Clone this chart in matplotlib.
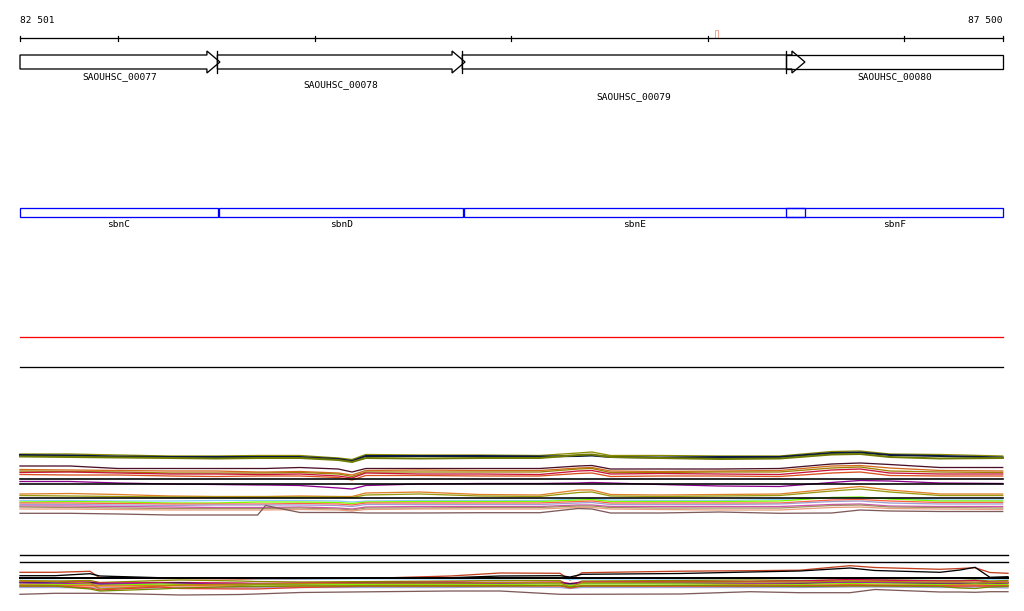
import matplotlib
matplotlib.use("Agg")
import matplotlib.pyplot as plt
from matplotlib.patches import Polygon, Rectangle

# ---------------- data ----------------
VIEW_START = 82501
VIEW_END = 87500
RULER_TICKS = [82501, 83000, 84000, 85000, 86000, 87000, 87500]
RULER_LABELS = ["82 501", "87 500"]

GENE_NAMES = ["SAOUHSC_00077", "SAOUHSC_00078", "SAOUHSC_00079", "SAOUHSC_00080"]
GENE_START = [82450, 83505, 84751, 86398]
GENE_END = [83518, 84765, 86494, 87560]
GENE_LABEL_ROW = [0, 1, 2, 0]

FEATURE_NAMES = ["sbnC", "sbnD", "sbnE", "sbnF"]
FEATURE_START = [82450, 83515, 84760, 86398]
FEATURE_END = [83508, 84755, 86494, 87560]

MARKER_POS = 86046

# profile track 1 (upper bundle) sampled positions
X1 = [82501, 82755, 83000, 83265, 83500, 83710, 83750, 83925, 84120, 84190,
      84260, 84535, 84840, 85145, 85340, 85410, 85505, 85755, 86060, 86365,
      86630, 86775, 86925, 87180, 87500]
T1_COLORS = ["#8b8b00", "#0a1a40", "#6f7a00", "#4a1028", "#d2691e", "#a08000",
             "#c8143c", "#d8501e", "#8b008b", "#e0802a", "#9a9a10", "#87cefa",
             "#7cfc00", "#ff6347", "#a0a0d0", "#d050b0", "#a09060", "#e8a080",
             "#7f5a5a"]
T1_VALUES = [
    [454, 454, 455, 456, 456, 455.5, 455.5, 455.5, 458, 459.5, 454.5, 455, 455, 455.5, 453, 452, 455.5, 455.5, 456, 456, 451.5, 451, 454, 454.5, 456],
    [455, 455.5, 456.5, 457, 457, 457, 457, 457, 459, 461, 456, 456, 456, 456.5, 456, 455.5, 457, 457.5, 457, 457, 453, 452.5, 455, 456, 457.5],
    [456.5, 457, 457.5, 458, 458.5, 458, 458, 458, 460, 462, 458, 458.5, 458, 458, 455, 454.5, 457, 458, 459, 458.5, 454.5, 454, 457, 458.5, 458],
    [466, 466, 468.5, 468.5, 468.5, 468.5, 468.5, 467.5, 469, 472, 468.5, 468.5, 468.5, 468.5, 466, 465.5, 469, 469, 469, 468.5, 464, 463, 464.5, 467.5, 467.5],
    [469.5, 470, 470.5, 471, 471, 472, 472, 471.5, 473, 475, 470.5, 470, 470.5, 470.5, 468, 467.5, 471, 471.5, 471, 470.5, 466, 465.5, 468, 470.5, 471],
    [471, 471.5, 472, 473, 473, 473, 473, 472.5, 474, 476.5, 472, 472, 472, 472, 469, 468.5, 472.5, 472.5, 472, 472, 468, 467, 471, 472, 472.5],
    [472.5, 472, 473, 474, 474, 474.5, 474.5, 474, 476, 478, 473, 474, 474, 474.5, 471, 470.5, 474, 473.5, 474, 474.5, 470, 469, 473, 474, 474],
    [474.5, 475, 475, 476, 476.5, 476, 476, 476, 477.5, 480, 475.5, 475.5, 476, 476, 473.5, 473, 476.5, 476, 476, 476.5, 473, 472, 475.5, 476, 476],
    [481.5, 481.5, 483, 484, 484.5, 485, 485, 485.5, 488, 489, 485.5, 484, 483.5, 483.5, 483, 482.5, 483, 484.5, 486, 486.5, 482.5, 480.5, 481, 483, 483.5],
    [494, 493.5, 494.5, 496, 496.5, 496.5, 496.5, 496, 496.5, 496.5, 493, 492, 494.5, 495, 490, 490, 494.5, 495, 494.5, 494, 489, 486.5, 490, 494, 494],
    [495.5, 496, 496.5, 497, 497, 497, 497, 497, 497, 497.5, 495, 494, 496, 496.5, 492.5, 492, 496, 496.5, 496, 495.5, 491, 489, 492, 495.5, 495.5],
    [500.5, 500.5, 501, 501, 500.5, 500.5, 500.5, 500.5, 501, 502, 501, 500.5, 500.5, 500.5, 499, 499, 500, 500.5, 500.5, 499.5, 497.5, 497.5, 498.5, 500, 500],
    [502, 501.5, 502, 503, 503, 502, 502, 502, 502.5, 503.5, 502, 501.5, 501.5, 501.5, 500, 499.5, 501.5, 501.5, 501.5, 501, 497.5, 497, 499, 501, 501],
    [503, 503, 503.5, 504, 504, 504, 504, 503.5, 504, 505, 503, 503, 503, 503, 501.5, 501, 503, 503, 503, 503, 500, 499.5, 501, 502.5, 502.5],
    [504.5, 504.5, 505, 505.5, 505, 505, 505, 505, 505.5, 506.5, 504.5, 504.5, 504.5, 504.5, 503, 502.5, 504.5, 504.5, 504.5, 504, 501.5, 501, 503, 504, 504],
    [506, 506, 506.5, 507, 507.5, 507.5, 507.5, 507, 508, 509, 507, 506.5, 506.5, 506.5, 505, 505, 506.5, 506.5, 506.5, 506.5, 504.5, 504, 506, 506.5, 506.5],
    [507, 507.5, 508, 508.5, 508.5, 508.5, 508.5, 508, 509, 510, 508, 508, 507.5, 507.5, 506, 506, 507.5, 508, 508, 508, 505.5, 505, 507, 507.5, 508],
    [509, 509, 509.5, 510, 510, 510, 510, 509.5, 510, 511, 509.5, 509, 509, 509, 507.5, 507.5, 509, 509.5, 510, 510, 507.5, 507, 508.5, 509, 509.5],
    [513.3, 513.3, 514, 515, 515, 515, 505.5, 512.5, 512.5, 512.5, 513, 513, 512.7, 512.7, 508.5, 509, 513, 513, 512, 513.3, 513, 510, 511, 511.5, 511.5],
]
T1_BLACK_LEVELS = [478.5, 484.3, 498.3]

# profile track 2 (lower bundle) sampled positions
X2 = [82501, 82679, 82857, 82908, 83213, 83315, 83620, 83702, 83925, 84332,
      84691, 84943, 85248, 85299, 85360, 85859, 86215, 86469, 86723, 86850,
      87181, 87283, 87359, 87435, 87527]
T2_COLORS = ["#c04020", "#000000", "#87cefa", "#8b8b00", "#d01050", "#101040",
             "#a020a0", "#7cfc00", "#e8702a", "#ff7f50", "#a0a0d8", "#b8860b",
             "#e04030", "#7a8a00", "#7f5a5a"]
T2_VALUES = [
    [572.3, 572.3, 571.3, 578, 578.5, 578.5, 579, 579, 579, 578, 576, 573, 573.3, 580, 572.7, 571.2, 570.7, 570.2, 565.7, 567.5, 569.3, 568.5, 567.7, 572.5, 573.3],
    [575.7, 575.7, 573.7, 576, 577.7, 577.7, 577.7, 577.7, 577.7, 577.7, 577.7, 576, 575.7, 577, 574.3, 573.5, 572, 571, 568, 570.5, 572.3, 570, 567.3, 577.3, 576.7],
    [578.7, 578.7, 578.3, 578.3, 578.3, 578.3, 578.3, 578.8, 579, 578.8, 579, 578.8, 578.3, 579.5, 579, 579, 578.5, 578.5, 578.5, 579, 578.5, 578.5, 579, 579.2, 579],
    [580.5, 581, 580.5, 582.5, 580.5, 580, 581, 581.5, 582, 581.5, 581, 580.5, 580.5, 586, 581, 580.5, 580, 580.5, 580, 580, 580.5, 580.5, 580, 581, 580.5],
    [582, 581.5, 582, 583, 582.5, 582.5, 583, 583.5, 583, 582.5, 582, 582.5, 582, 583.5, 582, 581.5, 581.5, 581, 579.5, 580, 581, 581, 580.5, 582, 582],
    [582.5, 583, 582.5, 584, 583.5, 583, 585, 584.5, 584, 583, 583, 582.5, 583, 584, 583, 583, 583.5, 583.5, 582, 582.5, 583.5, 583.5, 583.5, 584, 583],
    [583, 583.5, 584, 584, 583.5, 584, 583.5, 583.5, 584, 583.5, 583.5, 583.5, 583, 585, 583, 583, 583.5, 583, 582.5, 582.5, 583, 583, 583, 583, 583],
    [584.5, 584.5, 585, 585.5, 584, 584.5, 585, 585, 585, 584.5, 584.5, 584.5, 584, 585.5, 584, 584, 584.5, 584.5, 583.5, 584, 584.5, 584.5, 584, 584.5, 584.5],
    [585, 585.5, 585.5, 586, 585.5, 585.5, 586, 586.5, 586, 585.5, 585.5, 585.5, 585.5, 587, 585.5, 585.5, 585, 585.5, 584.5, 585, 585.5, 585, 585, 585.5, 585.5],
    [586.5, 586.5, 587, 587, 587, 587, 587.5, 587, 587, 586.5, 586.5, 586.5, 586.5, 588, 586.5, 586.5, 586.5, 586.5, 586, 586, 586.5, 586.5, 586, 586.5, 586.5],
    [587.5, 587.5, 588, 588, 588, 587.5, 588, 588, 587.5, 587.5, 587.5, 587, 587.5, 588.5, 587.5, 587.5, 587.5, 587.5, 587, 587, 587.5, 587.5, 587, 587.5, 588],
    [581, 581.5, 583, 589, 586, 585, 584, 584, 583.5, 583, 583, 582.5, 582.5, 587.5, 582.5, 582, 582, 582, 581, 581.5, 582, 582, 582, 582.5, 582.5],
    [586, 586, 588, 590, 587, 588.5, 589, 589, 587.5, 586, 586, 586, 585.5, 588, 586, 586, 586, 586, 585.5, 585.5, 586, 586, 586, 586, 586],
    [586, 586, 589, 591, 589, 588, 586.5, 586.5, 586, 586, 586, 586, 585.5, 587, 586, 585.5, 586, 586.5, 586, 586, 586.5, 588, 588.5, 587, 586.5],
    [594.3, 593.3, 593.3, 593.3, 594.5, 595, 594.5, 594, 592.5, 591.7, 591, 591, 594.3, 594.3, 594.3, 594, 591.7, 592.7, 592.7, 589.5, 592, 592, 592.3, 591.7, 591.7],
]
T2_BLACK_LEVELS = [555.3, 562.3, 577.8]
T2_END = 87527

# ---------------- layout (pixel-space vertical positions) ----------------
W, H = 1024, 611
BP_PER_PX = 5.087
X_LEFT = VIEW_START - 20 * BP_PER_PX
X_RIGHT = X_LEFT + W * BP_PER_PX

fig = plt.figure(figsize=(W / 100, H / 100), dpi=100)
ax = fig.add_axes([0, 0, 1, 1])
ax.set_xlim(X_LEFT, X_RIGHT)
ax.set_ylim(H, 0)
ax.axis("off")

FONT = dict(family="DejaVu Sans Mono", fontsize=6.8, color="black")
px = 0.72  # 1 pixel in points

# ruler
ax.plot([VIEW_START, VIEW_END], [38, 38], color="black", lw=px * 1.3)
for t in RULER_TICKS:
    ax.plot([t, t], [36, 40.5], color="black", lw=px * 1.2)
ax.text(VIEW_START, 20.5, RULER_LABELS[0], ha="left", va="center", **FONT)
ax.text(VIEW_END, 20.5, RULER_LABELS[1], ha="right", va="center", **FONT)
ax.add_patch(Rectangle((MARKER_POS - 8, 29.5), 16, 8.5, fill=False,
                       edgecolor="#f0a890", lw=px))

# genes
ARROW_LEN = 13 * BP_PER_PX
LABEL_Y = [77, 84.5, 96.5]
for name, s, e, row in zip(GENE_NAMES, GENE_START, GENE_END, GENE_LABEL_ROW):
    s0 = max(s, VIEW_START)
    if e <= VIEW_END:
        b = e - ARROW_LEN
        pts = [(s0, 55), (b, 55), (b, 51), (e, 62), (b, 73), (b, 69), (s0, 69)]
    else:
        pts = [(s0, 55), (VIEW_END, 55), (VIEW_END, 69), (s0, 69)]
    ax.add_patch(Polygon(pts, closed=True, fill=False, edgecolor="black",
                         lw=px * 1.3, joinstyle="miter"))
    if s >= VIEW_START:
        ax.plot([s, s], [50.5, 73], color="black", lw=px * 1.3)
    cx = (s0 + min(e, VIEW_END)) / 2
    ax.text(cx, LABEL_Y[row], name, ha="center", va="center", **FONT)

# features (blue boxes)
for name, s, e in zip(FEATURE_NAMES, FEATURE_START, FEATURE_END):
    s0 = max(s, VIEW_START)
    e0 = min(e, VIEW_END)
    ax.add_patch(Rectangle((s0, 207.5), e0 - s0, 9.8, fill=False,
                           edgecolor="#0000ff", lw=px * 1.3))
    ax.text((s0 + e0) / 2, 224.5, name, ha="center", va="center", **FONT)

# separator lines
ax.plot([VIEW_START, VIEW_END], [336.5, 336.5], color="#ff0000", lw=px * 1.3)
ax.plot([VIEW_START, VIEW_END], [366.5, 366.5], color="black", lw=px * 1.3)

# upper profile bundle
for col, vals in zip(T1_COLORS, T1_VALUES):
    lw = px * 2 if col in ("#0a1a40", "#6f7a00") else px * 1.3
    ax.plot(X1, vals, color=col, lw=lw, solid_joinstyle="miter")
for lvl in T1_BLACK_LEVELS:
    ax.plot([VIEW_START, VIEW_END], [lvl, lvl], color="black", lw=px * 1.6)

# lower profile bundle
for lvl in T2_BLACK_LEVELS[:2]:
    ax.plot([VIEW_START, T2_END], [lvl, lvl], color="black", lw=px * 1.4)
for col, vals in zip(T2_COLORS, T2_VALUES):
    ax.plot(X2, vals, color=col, lw=px * 1.3, solid_joinstyle="miter")
ax.plot([VIEW_START, T2_END], [T2_BLACK_LEVELS[2]] * 2, color="black", lw=px * 2)

fig.savefig("out.png", dpi=100)
